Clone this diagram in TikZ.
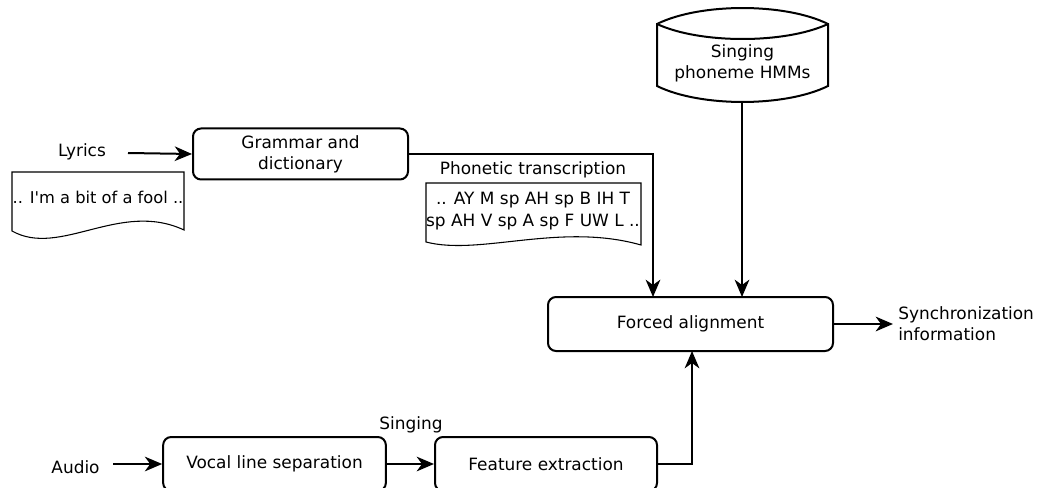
\documentclass[tikz,border=0pt]{standalone}
\usepackage{fontspec}
\setmainfont{DejaVu Sans}[Ligatures=TeXOff]
\usetikzlibrary{arrows.meta}
\begin{document}
\begin{tikzpicture}[x=0.75pt,y=-0.75pt,
  font=\fontsize{12.7}{16}\selectfont,
  proc/.style={draw, line width=1.5pt, rounded corners=6pt, align=center, inner sep=0pt},
  lbl/.style={inner sep=0pt, align=center},
  arr/.style={line width=1.5pt, -{Stealth[length=13pt,width=11pt,inset=4pt]}},
  docshape/.style={draw, line width=0.8pt, fill=white},
  drum/.style={draw, line width=1.5pt, fill=white}]
\clip (0,0) rectangle (1037,488);
\fill[white] (0,0) rectangle (1037,488);

% document shapes
\draw[docshape] (12,231) -- (12,172) -- (184,172) -- (184,230)
  .. controls (120,200) and (60,258) .. (12,231) -- cycle;
\draw[docshape] (426,242) -- (426,183) -- (641,183) -- (641,245)
  .. controls (560,222) and (480,256) .. (426,242) -- cycle;

% HMM drum
\draw[drum] (657,24) .. controls (700,2.7) and (785,2.7) .. (828,24) -- (828,86)
  .. controls (785,107.3) and (700,107.3) .. (657,86) -- cycle;
\draw[drum] (657,24) .. controls (700,44) and (785,44) .. (828,24);

% nodes
\node[proc, minimum width=161.25pt, minimum height=38.25pt] (grammar) at (300.5,154) {Grammar and\\dictionary};
\node[proc, minimum width=213.75pt, minimum height=40.5pt] (forced) at (690.5,324) {Forced alignment};
\node[proc, minimum width=167pt, minimum height=40.5pt] (vocal) at (274.5,464) {Vocal line separation};
\node[proc, minimum width=166.5pt, minimum height=40.5pt] (feature) at (546,464) {Feature extraction};

\node[lbl] (lyrics) at (82,152) {Lyrics};
\node[lbl, font=\fontsize{12.2}{16}\selectfont] (lyricsdoc) at (98,197) {.. I'm a bit of a fool ..};
\node[lbl] (phonlabel) at (533,170) {Phonetic transcription};
\node[lbl] (phondoc) at (533,211) {.. AY M sp AH sp B IH T\\sp AH V sp A sp F UW L ..};
\node[lbl] (hmm) at (742.5,63.5) {Singing\\phoneme HMMs};
\node[lbl, anchor=west, align=left] (sync) at (898,324) {Synchronization\\information};
\node[lbl] (audio) at (75.5,467) {Audio};
\node[lbl] (singing) at (411,425) {Singing};

% connector end points
\coordinate (lyrout) at (128,153);
\coordinate (audout) at (113,464);
\coordinate (hmmbot) at (742,102);
\coordinate (fin1) at (653,297);
\coordinate (fin2) at (742,297);
\coordinate (fin3) at (692,351);
\coordinate (syncin) at (893,324);

% connectors
\draw[arr] (lyrout) -- (grammar.west);
\draw[arr] (grammar.east) -| (fin1);
\draw[arr] (hmmbot) -- (fin2);
\draw[arr] (feature.east) -| (fin3);
\draw[arr] (forced.east) -- (syncin);
\draw[arr] (audout) -- (vocal.west);
\draw[arr] (vocal.east) -- (feature.west);
\end{tikzpicture}
\end{document}
